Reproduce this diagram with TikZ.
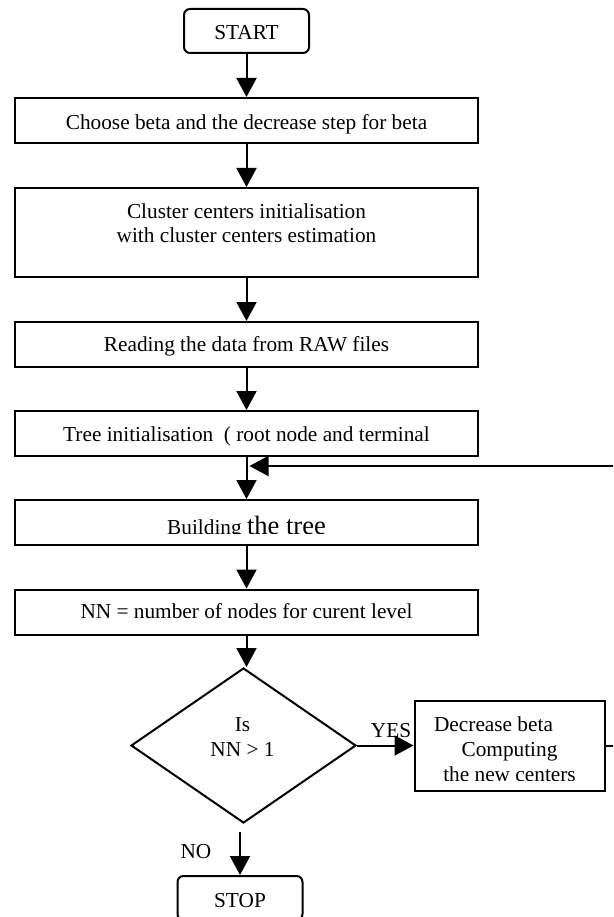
\documentclass[tikz,border=0pt]{standalone}
\usepackage{fontspec}
\setmainfont{Liberation Serif}
\usetikzlibrary{arrows.meta,shapes.geometric,calc}
\begin{document}
\begin{tikzpicture}[x=1pt,y=-1pt,
  every node/.style={font=\fontsize{21.3}{25}\selectfont},
  line/.style={line width=2pt},
  flow/.style={line, -{Triangle[width=20pt,length=19pt]}},
  stepbox/.style={draw, line width=2pt, rectangle, minimum width=463pt,
    minimum height=45pt, inner sep=0pt, text height=15.5pt, text depth=0pt},
  term/.style={draw, line width=2pt, rounded corners=6pt, minimum width=125pt,
    minimum height=44pt, inner sep=0pt, text height=16.6pt, text depth=0pt},
  txt/.style={inner sep=0pt, align=center},
  lbl/.style={inner sep=0pt, anchor=base}]
\useasboundingbox (0,0) rectangle (613,917);
\clip (0,0) rectangle (613,917);

% main column
\node[term] (start) at (246.5,31) {START};
\node[stepbox, text height=17.6pt] (b1) at (246.5,120.5) {Choose beta and the decrease step for beta};
\node[stepbox, minimum height=89pt] (b2) at (246.5,232.5) {};
% base anchor of a multi-line node sits on its last line
\node[txt, anchor=base, font=\fontsize{21.3}{24}\selectfont] (b2t) at (246.5,242)
  {Cluster centers initialisation\\with cluster centers estimation};
\node[stepbox, text height=14.4pt] (b3) at (246.5,344.5) {Reading the data from RAW files};
\node[stepbox, text height=16.4pt] (b4) at (246.5,433.5) {Tree initialisation~ ( root node and terminal};
\node[stepbox] (b5) at (246.5,522.5) {};
\begin{scope}
  \clip (20,505) rectangle (470,533.5);
  \node[lbl] (b5t) at (246.5,534.5) {Building {\fontsize{26.5}{28}\selectfont the tree}};
\end{scope}
\node[stepbox, text height=12.6pt] (b6) at (246.5,612) {NN = number of nodes for curent level};

% decision
\node[draw, diamond, line width=2pt, minimum width=225pt, minimum height=155pt,
  inner sep=0pt] (dec) at (243.5,745.5) {};
\node[txt, anchor=base] (dect) at (242.5,756.5) {Is\\NN > 1};

% update step
\node[draw, line width=2pt, minimum width=190pt, minimum height=90pt,
  inner sep=0pt] (b7) at (509.5,745.5) {};
\begin{scope}
  \clip (416,702) rectangle (603,780.5);
  \node[txt, anchor=base] (b7t) at (509.5,781)
    {Decrease beta\hphantom{xxx}\\Computing\\the new centers};
\end{scope}

\node[term, text height=18pt] (stop) at (240,898) {STOP};

% labels
\node[lbl] (yes) at (391,737) {YES};
\node[lbl] (no) at (196,858) {NO};

% connectors
\coordinate (merge) at (246.5,466);
\draw[flow] (start) -- (b1);
\draw[flow] (b1) -- (b2);
\draw[flow] (b2) -- (b3);
\draw[flow] (b3) -- (b4);
\draw[flow] (b4) -- (b5);
\draw[flow] (b5) -- (b6);
\draw[flow] (b6.south) -- (b6.south |- dec.north);
\draw[flow] (dec.east) -- (b7.west);
\draw[flow, shorten >=3pt] (b7.east) -- ++(20,0) |- (merge);
\draw[flow, shorten <=8pt] (dec.south -| stop.north) -- (stop.north);
\end{tikzpicture}
\end{document}
